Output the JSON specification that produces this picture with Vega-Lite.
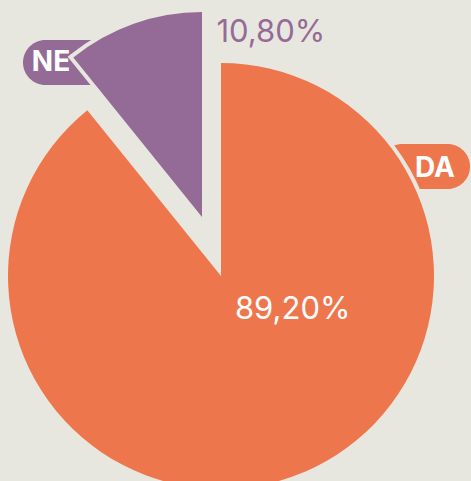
{
  "$schema": "https://vega.github.io/schema/vega-lite/v6.json",
  "width": 442,
  "height": 410,
  "autosize": {"type": "none"},
  "padding": {"left": 0, "top": 71, "right": 29, "bottom": 0},
  "background": "#e8e7df",
  "config": {"view": {"stroke": null}},
  "data": {
    "values": [
      {"label": "DA", "value": 89.2, "pct": "89,20%"},
      {"label": "NE", "value": 10.8, "pct": "10,80%"}
    ]
  },
  "layer": [
    {
      "transform": [{"filter": "datum.label === 'NE'"}],
      "mark": {"type": "point", "filled": true, "opacity": 1, "strokeWidth": 0, "size": 8100,
               "shape": "M -0.5 -0.5 L 0.5 -0.5 A 0.5 0.5 0 0 1 0.5 0.5 L -0.5 0.5 A 0.5 0.5 0 0 1 -0.5 -0.5 Z",
               "color": "#946b96", "xOffset": -153, "yOffset": -213.5},
      "encoding": {}
    },
    {
      "transform": [{"filter": "datum.label === 'DA'"}],
      "mark": {"type": "point", "filled": true, "opacity": 1, "strokeWidth": 0, "size": 8100,
               "shape": "M -0.5 -0.5 L 0.5 -0.5 A 0.5 0.5 0 0 1 0.5 0.5 L -0.5 0.5 A 0.5 0.5 0 0 1 -0.5 -0.5 Z",
               "color": "#ee764d", "xOffset": 204, "yOffset": -109.5},
      "encoding": {}
    },
    {
      "mark": {"type": "arc", "outerRadius": 213, "fill": "#e8e7df", "stroke": "#e8e7df", "strokeWidth": 8},
      "encoding": {
        "theta": {"field": "value", "type": "quantitative", "stack": true},
        "order": {"field": "label", "sort": "ascending"},
        "opacity": {"condition": {"test": "datum.label === 'DA'", "value": 1}, "value": 0}
      }
    },
    {
      "mark": {"type": "arc", "outerRadius": 205, "fill": "#e8e7df", "stroke": "#e8e7df", "strokeWidth": 8, "xOffset": -19, "yOffset": -59},
      "encoding": {
        "theta": {"field": "value", "type": "quantitative", "stack": true},
        "order": {"field": "label", "sort": "ascending"},
        "opacity": {"condition": {"test": "datum.label === 'NE'", "value": 1}, "value": 0}
      }
    },
    {
      "mark": {"type": "arc", "outerRadius": 213, "fill": "#ee764d", "strokeWidth": 0},
      "encoding": {
        "theta": {"field": "value", "type": "quantitative", "stack": true},
        "order": {"field": "label", "sort": "ascending"},
        "opacity": {"condition": {"test": "datum.label === 'DA'", "value": 1}, "value": 0}
      }
    },
    {
      "mark": {"type": "arc", "outerRadius": 205, "fill": "#946b96", "strokeWidth": 0, "xOffset": -19, "yOffset": -59},
      "encoding": {
        "theta": {"field": "value", "type": "quantitative", "stack": true},
        "order": {"field": "label", "sort": "ascending"},
        "opacity": {"condition": {"test": "datum.label === 'NE'", "value": 1}, "value": 0}
      }
    },
    {
      "transform": [{"filter": "datum.label === 'NE'"}],
      "mark": {"type": "text", "font": "Inter", "fontWeight": "bold", "fontSize": 28, "color": "#ffffff",
               "align": "center", "baseline": "middle", "dx": -170, "dy": -213},
      "encoding": {"text": {"field": "label"}}
    },
    {
      "transform": [{"filter": "datum.label === 'DA'"}],
      "mark": {"type": "text", "font": "Inter", "fontWeight": "bold", "fontSize": 28, "color": "#ffffff",
               "align": "center", "baseline": "middle", "dx": 214, "dy": -107},
      "encoding": {"text": {"field": "label"}}
    },
    {
      "mark": {"type": "text", "font": "Inter", "fontSize": 31, "radius": 35, "align": "center", "baseline": "middle", "dx": 60, "dy": 1},
      "encoding": {
        "theta": {"field": "value", "type": "quantitative", "stack": true},
        "order": {"field": "label", "sort": "ascending"},
        "text": {"field": "pct"},
        "color": {"value": "#ffffff"},
        "opacity": {"condition": {"test": "datum.label === 'DA'", "value": 1}, "value": 0}
      }
    },
    {
      "mark": {"type": "text", "font": "Inter", "fontSize": 31, "radius": 250, "align": "center", "baseline": "middle", "dx": 133, "dy": -7},
      "encoding": {
        "theta": {"field": "value", "type": "quantitative", "stack": true},
        "order": {"field": "label", "sort": "ascending"},
        "text": {"field": "pct"},
        "color": {"value": "#946b96"},
        "opacity": {"condition": {"test": "datum.label === 'NE'", "value": 1}, "value": 0}
      }
    }
  ]
}
